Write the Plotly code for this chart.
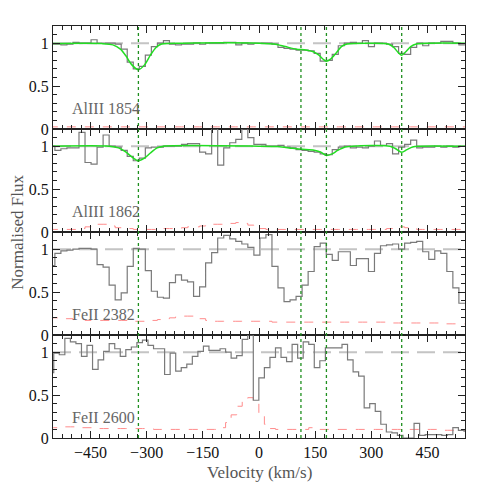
import numpy as np
import plotly.graph_objects as go
from plotly.subplots import make_subplots

# pixel grids (first bin edge, bin width in km/s)
al_start, al_dv = -561.1, 16.1
fe2382_start, fe2382_dv = -561.1, 16.1
fe2600_start, fe2600_dv = -562.8, 14.8

components = [-322, 112, 180, 381]

flux_al1854 = [0.99, 0.99, 0.98, 0.99, 1.01, 1.0, 1.0, 1.04, 1.0, 1.0, 1.0, 0.99, 0.93, 0.78, 0.70,
               0.73, 0.86, 0.96, 1.0, 1.03, 0.99, 0.98, 0.99, 0.99, 1.0, 0.99, 1.0, 1.0, 1.0, 1.01,
               1.01, 0.98, 1.0, 0.99, 1.0, 1.0, 1.0, 0.99, 0.95, 0.94, 0.93, 0.92, 0.92, 0.91, 0.88,
               0.79, 0.80, 0.87, 0.97, 1.0, 1.01, 1.0, 1.03, 0.96, 1.0, 1.0, 0.99, 0.96, 0.88, 0.87,
               0.95, 1.0, 0.97, 1.0, 1.0, 1.02, 1.02, 1.0, 0.98]
err_al1854 = [0.025, 0.025, 0.025, 0.025, 0.025, 0.025, 0.025, 0.025, 0.025, 0.025, 0.025, 0.025,
              0.025, 0.025, 0.025, 0.025, 0.025, 0.025, 0.025, 0.025, 0.025, 0.025, 0.025, 0.025,
              0.025, 0.025, 0.025, 0.025, 0.025, 0.025, 0.025, 0.025, 0.025, 0.025, 0.025, 0.025,
              0.025, 0.025, 0.025, 0.025, 0.025, 0.025, 0.025, 0.025, 0.025, 0.025, 0.025, 0.025,
              0.025, 0.025, 0.025, 0.025, 0.025, 0.025, 0.025, 0.025, 0.025, 0.025, 0.025, 0.025,
              0.025, 0.025, 0.025, 0.025, 0.025, 0.025, 0.025, 0.025, 0.025]
fit_v_al1854 = [-550, -420, -390, -370, -355, -340, -322, -305, -290, -275, -260, -200, 0, 40, 70,
                100, 125, 145, 160, 172, 180, 190, 205, 220, 235, 300, 345, 360, 372, 381, 392,
                405, 420, 550]
fit_f_al1854 = [0.995, 0.995, 0.98, 0.93, 0.85, 0.75, 0.69, 0.75, 0.86, 0.95, 0.99, 1.0, 1.0, 0.99,
                0.96, 0.93, 0.92, 0.90, 0.86, 0.81, 0.79, 0.81, 0.88, 0.96, 0.99, 1.0, 0.99, 0.95,
                0.89, 0.86, 0.90, 0.96, 0.99, 1.0]

flux_al1862 = [1.0, 0.95, 0.97, 0.98, 0.98, 1.16, 0.81, 0.79, 0.99, 1.13, 1.0, 0.99, 0.95, 0.88,
               0.83, 0.86, 0.98, 0.99, 0.99, 1.0, 1.0, 1.0, 1.02, 1.03, 1.03, 0.93, 0.91, 1.2,
               0.78, 0.98, 1.04, 1.08, 1.2, 1.1, 1.02, 1.02, 1.0, 1.0, 1.01, 0.99, 0.98, 0.96,
               0.95, 0.94, 0.93, 0.91, 0.90, 0.96, 0.99, 1.0, 0.98, 0.99, 0.98, 1.0, 1.06, 1.01,
               1.03, 0.91, 0.99, 1.02, 1.07, 0.98, 0.99, 0.99, 1.0, 0.99, 1.0, 0.99, 1.0]
err_al1862 = [0.03, 0.03, 0.03, 0.03, 0.03,
              0.04, 0.06, 0.08, 0.09, 0.09, 0.07, 0.05,
              0.04, 0.04, 0.03, 0.03, 0.03, 0.03, 0.03, 0.04, 0.04, 0.04, 0.05, 0.06,
              0.06, 0.07, 0.08, 0.09, 0.09, 0.10, 0.10, 0.11, 0.10, 0.08, 0.05,
              0.04, 0.03, 0.03, 0.03, 0.03, 0.03, 0.03, 0.03, 0.03, 0.03, 0.03, 0.03, 0.03,
              0.03, 0.03, 0.03, 0.03, 0.03, 0.03, 0.03, 0.03, 0.04,
              0.05, 0.06, 0.05,
              0.04, 0.03, 0.03, 0.03, 0.03, 0.03, 0.03, 0.03, 0.03]
fit_v_al1862 = [-550, -400, -375, -355, -338, -322, -306, -290, -272, -255, 0, 50, 90, 125, 150,
                165, 180, 195, 210, 230, 250, 350, 365, 381, 395, 410, 425, 550]
fit_f_al1862 = [1.0, 1.0, 0.98, 0.93, 0.87, 0.83, 0.86, 0.92, 0.98, 1.0, 1.0, 0.995, 0.975, 0.96,
                0.95, 0.93, 0.89, 0.91, 0.95, 0.99, 1.0, 1.0, 0.97, 0.93, 0.96, 0.99, 1.0, 1.0]

flux_fe2382 = [0.81, 0.95, 0.98, 0.99, 1.0, 1.01, 1.01, 1.0, 0.82, 0.79, 0.58, 0.41, 0.49, 0.80,
               1.01, 1.0, 0.75, 0.51, 0.44, 0.43, 0.61, 0.70, 0.64, 0.62, 0.45, 0.56, 0.84, 0.96,
               1.13, 1.16, 1.12, 1.09, 1.06, 1.02, 0.93, 1.13, 1.17, 0.80, 0.55, 0.39, 0.41, 0.45,
               0.58, 0.74, 1.03, 1.07, 0.94, 0.87, 0.97, 0.97, 0.81, 0.89, 0.89, 0.74, 0.95, 1.04,
               1.05, 1.06, 1.0, 1.07, 1.08, 1.09, 0.97, 0.88, 0.98, 0.95, 0.74, 0.55, 0.37]
err_fe2382 = [0.20, 0.20, 0.19, 0.19,
              0.18, 0.18, 0.17, 0.17, 0.17, 0.17,
              0.17, 0.17, 0.17, 0.16, 0.16, 0.16,
              0.16, 0.17, 0.18, 0.19, 0.20, 0.21,
              0.22, 0.22, 0.21, 0.19, 0.17,
              0.16, 0.16, 0.16, 0.16, 0.16, 0.16, 0.16, 0.16, 0.16, 0.16,
              0.15, 0.15, 0.15, 0.15, 0.15, 0.15, 0.15, 0.15, 0.15, 0.15,
              0.15, 0.15, 0.15, 0.15, 0.15, 0.15, 0.15, 0.15, 0.15, 0.15,
              0.14, 0.14, 0.14, 0.14, 0.14, 0.14, 0.14, 0.14,
              0.13, 0.13, 0.13, 0.13]

flux_fe2600 = [0.76, 0.99, 0.97, 1.16, 1.12, 1.10, 0.95, 1.08, 0.80, 0.91, 1.01, 1.10, 1.04, 0.95,
               1.03, 1.06, 1.11, 1.14, 1.08, 1.04, 1.04, 0.74, 0.99, 0.78, 0.82, 0.86, 0.95, 1.01,
               1.07, 1.02, 1.02, 1.04, 1.0, 0.93, 0.96, 1.15, 1.2, 0.44, 0.70, 0.82, 0.94, 1.05,
               0.94, 0.89, 1.09, 0.93, 1.12, 1.09, 0.82, 0.90, 1.05, 1.05, 1.05, 1.09, 0.91, 0.77,
               0.72, 0.35, 0.40, 0.31, 0.16, 0.07, 0.06, 0.03, 0.0, 0.0, 0.17, 0.03, 0.04, 0.04,
               0.04, 0.03, 0.04, 0.12, 0.09, 0.08]
err_fe2600 = [0.12, 0.12, 0.13, 0.13, 0.13,
              0.13, 0.12, 0.12, 0.11, 0.11, 0.11, 0.11,
              0.11, 0.11, 0.11, 0.11, 0.11, 0.11, 0.11, 0.10, 0.10, 0.10, 0.10, 0.10, 0.10,
              0.10, 0.10, 0.10, 0.10, 0.10,
              0.10, 0.12, 0.18, 0.27, 0.37, 0.44, 0.47, 0.42, 0.28, 0.16, 0.11,
              0.10, 0.10, 0.10, 0.10, 0.10, 0.10,
              0.12,
              0.10, 0.10, 0.10, 0.10, 0.10, 0.10, 0.10, 0.10, 0.10, 0.10, 0.10, 0.10, 0.10,
              0.10, 0.10, 0.10, 0.10, 0.10, 0.10, 0.10, 0.10, 0.10, 0.10, 0.09, 0.09, 0.09,
              0.09, 0.09]

panels = [
    ("AlIII 1854", al_start, al_dv, flux_al1854, err_al1854, fit_v_al1854, fit_f_al1854),
    ("AlIII 1862", al_start, al_dv, flux_al1862, err_al1862, fit_v_al1862, fit_f_al1862),
    ("FeII 2382", fe2382_start, fe2382_dv, flux_fe2382, err_fe2382, None, None),
    ("FeII 2600", fe2600_start, fe2600_dv, flux_fe2600, err_fe2600, None, None),
]

FONT = "Liberation Serif, DejaVu Serif, serif"


def steps(start, dv, vals):
    edges = start + dv * np.arange(len(vals) + 1)
    return edges, list(vals) + [vals[-1]]


fig = make_subplots(rows=4, cols=1, shared_xaxes=True, vertical_spacing=0)

for r, (name, start, dv, flux, err, fv, ff) in enumerate(panels, start=1):
    # continuum
    fig.add_trace(go.Scatter(x=[-550, 550], y=[1, 1], mode='lines',
                             line=dict(color='#c4c4c4', width=2, dash='18px,8px'),
                             hoverinfo='skip'), row=r, col=1)
    ex, ey = steps(start, dv, err)
    fig.add_trace(go.Scatter(x=ex, y=ey, mode='lines', line_shape='hv',
                             line=dict(color='#ff8c8c', width=1, dash='dash')), row=r, col=1)
    sx, sy = steps(start, dv, flux)
    fig.add_trace(go.Scatter(x=sx, y=sy, mode='lines', line_shape='hv',
                             line=dict(color='#7a7a7a', width=1.2)), row=r, col=1)
    if fv is not None:
        fig.add_trace(go.Scatter(x=fv, y=ff, mode='lines', line_shape='spline',
                                 line=dict(color='#22dd22', width=1.5, smoothing=0.8)), row=r, col=1)
    fig.add_annotation(x=-505, y=0.24, text=name, showarrow=False, xanchor='left',
                       font=dict(family=FONT, size=16, color='#666666'),
                       xref='x' if r == 1 else 'x%d' % r, yref='y' if r == 1 else 'y%d' % r)

for v in components:
    fig.add_shape(type='line', x0=v, x1=v, xref='x', yref='paper', y0=0, y1=1,
                  line=dict(color='#1f8f1f', width=1.3, dash='dot'))

fig.update_xaxes(range=[-550, 550], tick0=0, dtick=150, ticks='inside', ticklen=7,
                 tickcolor='#222', showline=True, linecolor='#222', linewidth=1,
                 mirror='allticks', showgrid=False, zeroline=False,
                 minor=dict(dtick=25, tick0=0, ticks='inside', ticklen=4, tickcolor='#222'),
                 tickfont=dict(family=FONT, size=16, color='#111'))
fig.update_yaxes(range=[0, 1.2], tick0=0, dtick=0.5, ticks='inside', ticklen=7,
                 tickcolor='#222', showline=True, linecolor='#222', linewidth=1,
                 mirror='allticks', showgrid=False, zeroline=False,
                 minor=dict(dtick=0.1, tick0=0, ticks='inside', ticklen=4, tickcolor='#222'),
                 tickfont=dict(family=FONT, size=16, color='#111'))

fig.add_annotation(x=0.5, y=-0.083, xref='paper', yref='paper', text='Velocity (km/s)',
                   showarrow=False, xanchor='center', yanchor='middle',
                   font=dict(family=FONT, size=17, color='#555'))
fig.add_annotation(x=-0.088, y=0.5, xref='paper', yref='paper', text='Normalised Flux',
                   textangle=-90, showarrow=False, xanchor='center', yanchor='middle',
                   font=dict(family=FONT, size=17, color='#555'))

# the page body has an 8px margin, so shift the plot area back by that much
fig.update_layout(width=491, height=491, showlegend=False,
                  margin=dict(l=45, r=34, t=18, b=61),
                  paper_bgcolor='white', plot_bgcolor='white')

fig.write_html("out.html")
